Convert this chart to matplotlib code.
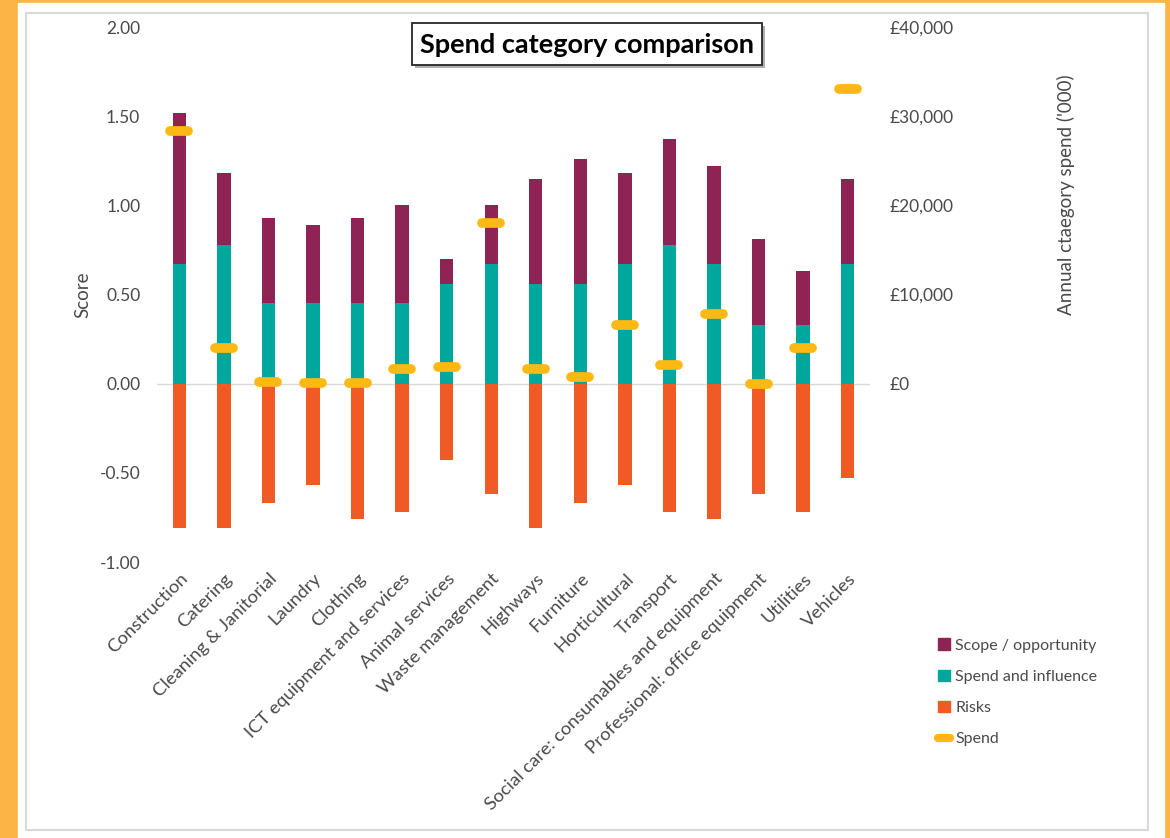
import numpy as np
import matplotlib
matplotlib.use('Agg')
import matplotlib.pyplot as plt
from matplotlib.patches import Rectangle, Patch
from matplotlib.lines import Line2D
from matplotlib.markers import MarkerStyle

plt.rcParams['font.family'] = ['Lato', 'DejaVu Sans']

categories = ['Construction', 'Catering', 'Cleaning & Janitorial', 'Laundry', 'Clothing',
              'ICT equipment and services', 'Animal services', 'Waste management', 'Highways',
              'Furniture', 'Horticultural', 'Transport', 'Social care: consumables and equipment',
              'Professional: office equipment', 'Utilities', 'Vehicles']

spend_influence = [0.67, 0.78, 0.45, 0.45, 0.45, 0.45, 0.56, 0.67, 0.56, 0.56, 0.67, 0.78, 0.67, 0.33, 0.33, 0.67]
scope = [0.85, 0.40, 0.48, 0.44, 0.48, 0.55, 0.14, 0.33, 0.59, 0.70, 0.51, 0.59, 0.55, 0.48, 0.30, 0.48]
risks = [-0.81, -0.81, -0.67, -0.57, -0.76, -0.72, -0.43, -0.62, -0.81, -0.67, -0.57, -0.72, -0.76, -0.62, -0.72, -0.53]
spend = [28300, 4000, 150, 100, 100, 1700, 1900, 18000, 1700, 800, 6600, 2100, 7800, 0, 4000, 33100]

c_scope = '#8D2453'
c_spend_inf = '#00A79D'
c_risk = '#F15A24'
c_spend = '#FDB913'
grey = '#4a4a4a'

fig = plt.figure(figsize=(11.7, 8.38), dpi=100)

# orange frame + inner panel border
fig.patches.append(Rectangle((0, 0), 1, 1, transform=fig.transFigure, color='#FDB447', zorder=-10))
fig.patches.append(Rectangle((18 / 1170, 0), (1164 - 18) / 1170, 1 - 3 / 838, transform=fig.transFigure,
                             color='white', zorder=-9))
fig.patches.append(Rectangle((26 / 1170, 1 - 830 / 838), (1148 - 26) / 1170, (830 - 13) / 838,
                             transform=fig.transFigure, facecolor='none', edgecolor='#d9d9d9', lw=1.5, zorder=-8))

ax = fig.add_axes([157 / 1170, 1 - 562 / 838, (870 - 157) / 1170, (562 - 27) / 838])
ax.set_facecolor('none')
x = np.arange(len(categories))
w = 0.3
ax.bar(x, spend_influence, w, color=c_spend_inf, zorder=2)
ax.bar(x, scope, w, bottom=spend_influence, color=c_scope, zorder=2)
ax.bar(x, risks, w, color=c_risk, zorder=2)
ax.axhline(0, color='#d9d9d9', lw=1, zorder=1)

ax.set_xlim(-0.5, len(categories) - 0.5)
ax.set_ylim(-1, 2)
ax.set_yticks(np.arange(-1, 2.01, 0.5))
ax.set_yticklabels(['%.2f' % v for v in np.arange(-1, 2.01, 0.5)])
ax.set_xticks(x)
ax.set_xticklabels(categories, rotation=45, ha='right', rotation_mode='anchor')
ax.tick_params(axis='y', length=0, pad=12, labelsize=12.5, labelcolor=grey)
ax.tick_params(axis='x', length=0, pad=6, labelsize=13.3, labelcolor=grey)
for s in ax.spines.values():
    s.set_visible(False)
ax.set_ylabel('Score', color=grey, fontsize=13.5)
ax.yaxis.set_label_coords(-0.092, 0.5)

ax2 = ax.twinx()
ax2.set_ylim(-20000, 40000)
ax2.set_yticks(np.arange(0, 40001, 10000))
ax2.set_yticklabels(['£{:,}'.format(v) for v in range(0, 40001, 10000)])
ax2.tick_params(axis='y', length=0, pad=14, labelsize=12.5, labelcolor=grey)
for s in ax2.spines.values():
    s.set_visible(False)
mk = MarkerStyle('_', capstyle='round')
ax2.plot(x, spend, linestyle='none', marker=mk, markersize=13, markeredgewidth=7,
         color=c_spend, zorder=3)
ax2.set_ylabel("Annual ctaegory spend ('000)", color=grey, fontsize=13.5)
ax2.yaxis.set_label_coords(1.262, 0.686)

# title in box with shadow
fig.patches.append(Rectangle((415 / 1170, 1 - 68 / 838), 350 / 1170, 42 / 838, transform=fig.transFigure,
                             facecolor='#b0b0b0', edgecolor='none', zorder=5))
fig.patches.append(Rectangle((412 / 1170, 1 - 65 / 838), 350 / 1170, 42 / 838, transform=fig.transFigure,
                             facecolor='white', edgecolor='#262626', lw=1.3, zorder=6))
fig.text(587 / 1170, 1 - 45 / 838, 'Spend category comparison', ha='center', va='center',
         fontsize=19.5, fontweight='bold', color='black', zorder=7)

handles = [Patch(color=c_scope), Patch(color=c_spend_inf), Patch(color=c_risk),
           Line2D([0], [0], color=c_spend, lw=6, solid_capstyle='round')]
labels = ['Scope / opportunity', 'Spend and influence', 'Risks', 'Spend']
leg = fig.legend(handles, labels, loc='upper left', bbox_to_anchor=(924 / 1170, 1 - 624 / 838),
                 frameon=False, fontsize=11.5, handlelength=0.75, handleheight=0.75,
                 handletextpad=0.3, labelspacing=1.05)
for t in leg.get_texts():
    t.set_color(grey)

fig.savefig('out.png', dpi=100)
